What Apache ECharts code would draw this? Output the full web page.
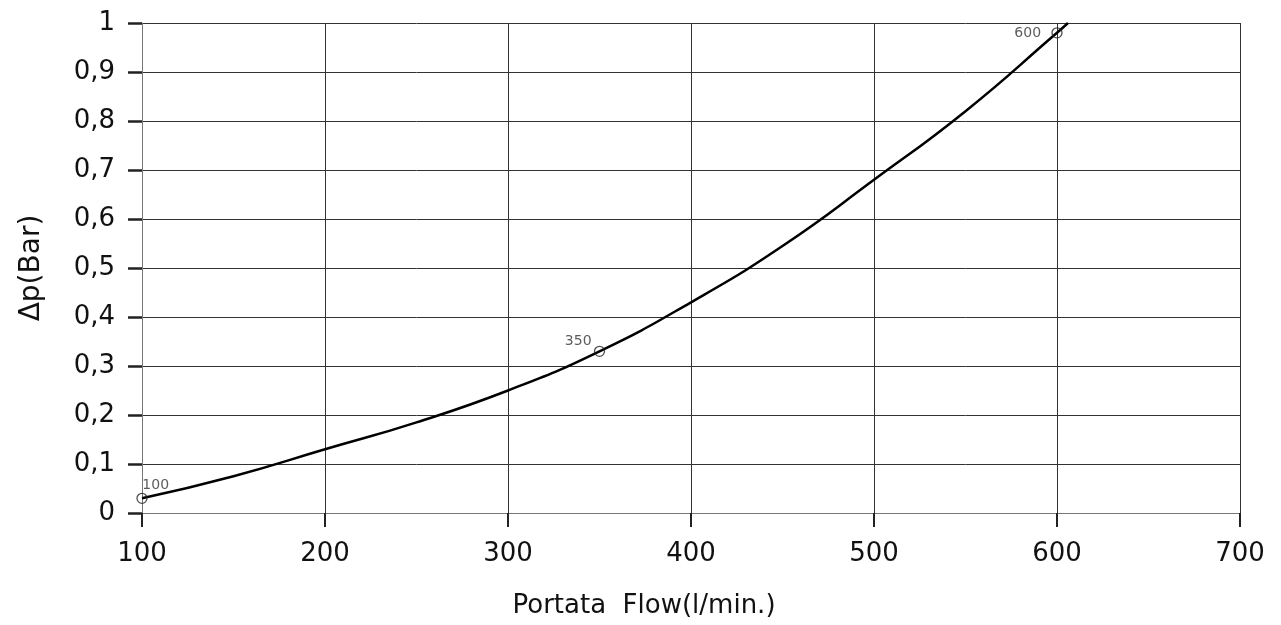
<!DOCTYPE html>
<html>
<head>
<meta charset="UTF-8">
<script type="text/javascript" src="https://cdn.jsdelivr.net/npm/echarts@6/dist/echarts.min.js"></script>
<style>
  html, body { margin: 0; padding: 0; background: #fff; }
  #chartmain { width: 1281px; height: 625px; }
</style>
</head>
<body>
<div id="chartmain"></div>
<script type="text/javascript">
// curve: flow (l/min) -> pressure drop (bar)
var flow = [100, 150, 200, 250, 300, 350, 400, 450, 500, 550, 600, 606];
var dp   = [0.03, 0.075, 0.13, 0.185, 0.25, 0.33, 0.43, 0.545, 0.68, 0.82, 0.98, 1.0];
// marked points
var markFlow = [100, 350, 600];
var markDp   = [0.03, 0.33, 0.98];

var FONT = 'DejaVu Sans';

var curve = [];
for (var i = 0; i < flow.length; i++) curve.push([flow[i], dp[i]]);

// label offsets for the three marked points
var labelOffsets = [[6, -14], [-29, -11], [-37, -1]];
var marks = [];
for (var j = 0; j < markFlow.length; j++) {
  marks.push({
    value: [markFlow[j], markDp[j]],
    label: { position: labelOffsets[j] }
  });
}

var option = {
  animation: false,
  grid: { left: 142, right: 41, top: 23, bottom: 112, containLabel: false, outerBoundsMode: 'none' },
  xAxis: {
    type: 'value',
    min: 100, max: 700, interval: 100,
    name: 'Portata  Flow(l/min.)',
    nameLocation: 'middle',
    nameGap: 80,
    nameTextStyle: { fontFamily: FONT, fontSize: 26, color: '#111', padding: [0, 94, 0, 0] },
    axisLine: { lineStyle: { color: '#777', width: 1 } },
    axisTick: { show: true, length: 14, lineStyle: { color: '#222', width: 2 } },
    axisLabel: { fontFamily: FONT, fontSize: 26, color: '#111', margin: 28 },
    splitLine: { show: true, lineStyle: { color: '#333', width: 1 } }
  },
  yAxis: {
    type: 'value',
    min: 0, max: 1, interval: 0.1,
    name: '\u0394p(Bar)',
    nameLocation: 'middle',
    nameGap: 96,
    nameRotate: 90,
    nameTextStyle: { fontFamily: FONT, fontSize: 28, color: '#111' },
    axisLine: { show: true, lineStyle: { color: '#777', width: 1 } },
    axisTick: { show: true, length: 14, lineStyle: { color: '#222', width: 2.5 } },
    axisLabel: {
      fontFamily: FONT, fontSize: 26, color: '#111', margin: 27,
      formatter: function (v) { return (Math.round(v * 10) / 10).toString().replace('.', ','); }
    },
    splitLine: { show: true, lineStyle: { color: '#333', width: 1 } }
  },
  series: [
    {
      type: 'line',
      data: curve,
      smooth: true,
      showSymbol: false,
      lineStyle: { color: '#000', width: 2.5 },
      z: 3
    },
    {
      type: 'scatter',
      data: marks,
      symbol: 'circle',
      symbolSize: 10,
      itemStyle: { color: 'rgba(255,255,255,0)', borderColor: '#222', borderWidth: 1.3 },
      label: {
        show: true,
        formatter: function (p) { return p.value[0]; },
        fontFamily: FONT, fontSize: 14, color: '#333'
      },
      z: 4
    }
  ]
};

var myChart = echarts.init(document.getElementById('chartmain'));
myChart.setOption(option);
</script>
</body>
</html>
